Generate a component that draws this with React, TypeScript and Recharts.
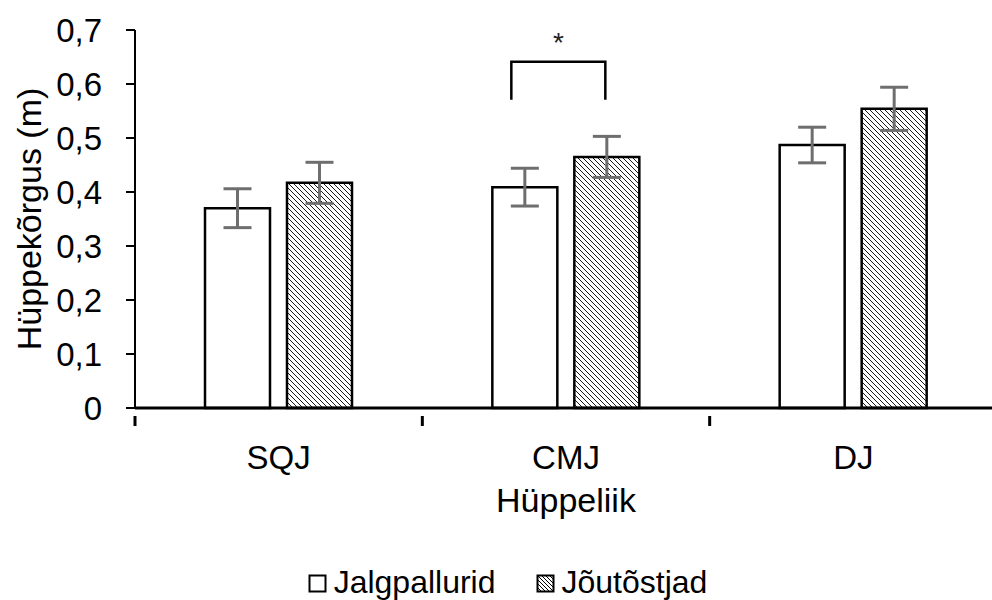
import React from 'react';
import { BarChart, Bar, XAxis, YAxis, ErrorBar, Legend, LabelList } from 'recharts';

const categories = ['SQJ', 'CMJ', 'DJ'];
const jalgpallurid = [0.37, 0.409, 0.487];
const jalgpalluridErr = [0.036, 0.035, 0.033];
const joutostjad = [0.417, 0.465, 0.554];
const joutostjadErr = [0.038, 0.038, 0.04];
const yTicks = [0, 0.1, 0.2, 0.3, 0.4, 0.5, 0.6, 0.7];
const seriesNames = ['Jalgpallurid', 'Jõutõstjad'];
const sigBracket = { category: 'CMJ', top: 0.641, leg: 0.571, star: 0.66, label: '*' };

const data = categories.map((c, i) => ({
  name: c,
  a: jalgpallurid[i],
  aErr: jalgpalluridErr[i],
  b: joutostjad[i],
  bErr: joutostjadErr[i],
}));

const FONT = '"Liberation Sans", Arial, sans-serif';
const FS = 33;
const W = 992;
const H = 600;
const M = { top: 30, right: -5, left: 0, bottom: 0 };
const Y_W = 135;
const BAR = 65;
const GAP = 17;

const bandHalf = (W - M.left - M.right - Y_W) / categories.length / 2;

const XTick = (props: any) => {
  const { x, y, payload, index } = props;
  return (
    <g>
      {index === 0 && <line x1={x - bandHalf} x2={x - bandHalf} y1={y} y2={y + 10} stroke="#000" strokeWidth={3} />}
      <line x1={x + bandHalf} x2={x + bandHalf} y1={y} y2={y + 10} stroke="#000" strokeWidth={3} />
      <text x={x} y={y + 41} textAnchor="middle" dominantBaseline="central" fontSize={FS} fontFamily={FONT} fill="#000">
        {payload.value}
      </text>
    </g>
  );
};

const Bracket = (props: any) => {
  const { x, y, width, height, value, index } = props;
  if (categories[index] !== sigBracket.category) return null;
  const base = y + height;
  const ppu = height / value;
  const x1 = x + width / 2 - 13.5;
  const x2 = x + width + GAP + width / 2 - 1.5;
  const yt = base - sigBracket.top * ppu;
  const yl = base - sigBracket.leg * ppu;
  const ys = base - sigBracket.star * ppu;
  return (
    <g>
      <path d={`M${x1},${yl} L${x1},${yt} L${x2},${yt} L${x2},${yl}`} fill="none" stroke="#000" strokeWidth={2.5} />
      <text x={(x1 + x2) / 2} y={ys} textAnchor="middle" fontSize={28} fontFamily={FONT} fill="#222">
        {sigBracket.label}
      </text>
    </g>
  );
};

const LegendContent = () => (
  <div style={{ boxSizing: 'border-box', display: 'flex', justifyContent: 'center', alignItems: 'center', height: 62, paddingTop: 26, paddingLeft: 18, fontFamily: FONT, fontSize: 32, lineHeight: 1, color: '#000' }}>
    <svg width={19} height={19} style={{ marginRight: 7, marginTop: 3 }}>
      <rect x={1.5} y={1.5} width={16} height={16} fill="#fff" stroke="#000" strokeWidth={2} />
    </svg>
    <span style={{ marginRight: 40 }}>{seriesNames[0]}</span>
    <svg width={19} height={19} style={{ marginRight: 7, marginTop: 3 }}>
      <defs>
        <pattern id="hatchLeg" width={4} height={4} patternUnits="userSpaceOnUse">
          <path d="M0,0 L4,4 M-1,3 L1,5 M3,-1 L5,1" stroke="#000" strokeWidth={1} />
        </pattern>
      </defs>
      <rect x={1.5} y={1.5} width={16} height={16} fill="url(#hatchLeg)" stroke="#000" strokeWidth={2} />
    </svg>
    <span>{seriesNames[1]}</span>
  </div>
);

export default function App() {
  return (
    <div style={{ position: 'absolute', left: 0, top: 0, width: W, height: H, background: '#fff', overflow: 'hidden' }}>
      <BarChart width={W} height={H} data={data} margin={M} barSize={BAR} barGap={GAP}>
        <defs>
          <pattern id="hatch" width={5} height={5} patternUnits="userSpaceOnUse">
            <path d="M0,0 L5,5 M-1,4 L1,6 M4,-1 L6,1" stroke="#000" strokeWidth={0.9} />
          </pattern>
        </defs>
        <XAxis
          dataKey="name"
          height={130}
          axisLine={{ stroke: '#000', strokeWidth: 3 }}
          tickLine={false}
          tick={<XTick />}
          interval={0}
          label={{ value: 'Hüppeliik', position: 'insideBottom', offset: 26, fontSize: 34, fontFamily: FONT, fill: '#000' }}
        />
        <YAxis
          width={Y_W}
          domain={[0, 0.7]}
          ticks={yTicks}
          interval={0}
          tickFormatter={(v: number) => (v === 0 ? '0' : v.toFixed(1).replace('.', ','))}
          axisLine={{ stroke: '#000', strokeWidth: 2 }}
          tickLine={{ stroke: '#000', strokeWidth: 2 }}
          tickSize={9}
          tickMargin={24}
          tick={{ fontSize: FS, fontFamily: FONT, fill: '#000' }}
          label={{
            content: (p: any) => {
              const vb = p.viewBox;
              const cx = 29;
              const cy = vb.y + vb.height / 2;
              return (
                <text x={cx} y={cy} transform={`rotate(-90 ${cx} ${cy})`} textAnchor="middle" dominantBaseline="central" fontSize={34} fontFamily={FONT} fill="#000">
                  Hüppekõrgus (m)
                </text>
              );
            },
          }}
        />
        <Legend verticalAlign="bottom" height={62} content={<LegendContent />} />
        <Bar dataKey="a" name={seriesNames[0]} fill="#fff" stroke="#000" strokeWidth={2.5} isAnimationActive={false}>
          <ErrorBar dataKey="aErr" width={14} stroke="#6e6e6e" strokeWidth={3} />
          <LabelList dataKey="a" content={<Bracket />} />
        </Bar>
        <Bar dataKey="b" name={seriesNames[1]} fill="url(#hatch)" stroke="#000" strokeWidth={2.5} isAnimationActive={false}>
          <ErrorBar dataKey="bErr" width={14} stroke="#6e6e6e" strokeWidth={3} />
        </Bar>
      </BarChart>
    </div>
  );
}
